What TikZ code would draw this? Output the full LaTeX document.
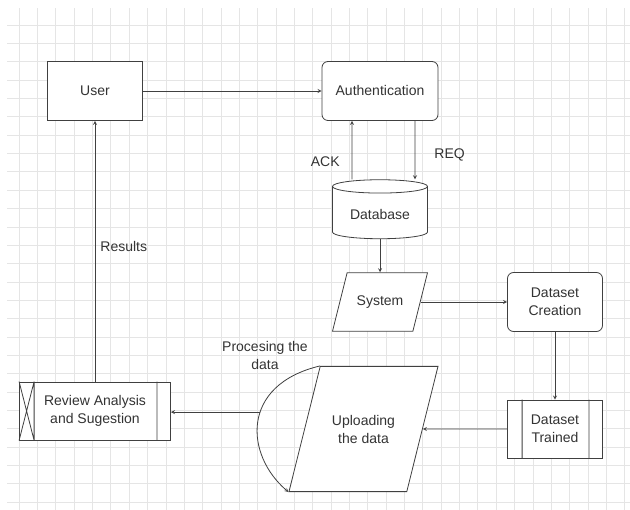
\documentclass[tikz,border=0pt]{standalone}
\usepackage{fontspec}
\setmainfont{Liberation Sans}
\usetikzlibrary{positioning, calc, shapes}

\begin{document}
\begin{tikzpicture}[x=1pt, y=-1pt, >=stealth, on grid,
					gridline/.style={draw=black!10, line width=0.6pt},
					box/.style={draw=black!75, line width=0.8pt, fill=white, minimum width=95pt,
						minimum height=59pt, align=center, text=black!80,
						font=\fontsize{14}{18}\selectfont},
					rbox/.style={box, rounded corners=6pt},
					para/.style={box, minimum height=0pt, trapezium, trapezium left angle=76,
						trapezium right angle=104, trapezium stretches body},
					dbase/.style={box, cylinder, shape border rotate=90, aspect=0.2},
					lbl/.style={text=black!80, font=\fontsize{14}{18}\selectfont, align=center, inner sep=0pt},
					line/.style={->, draw=black!75, line width=0.8pt} ]
	\useasboundingbox (0,0) rectangle (630,510);
	\foreach \i in {0,...,33}
		\draw[gridline] (19+\i*18.35,8) -- (19+\i*18.35,510);
	\foreach \j in {0,...,26}
		\draw[gridline] (7,25+\j*18.35) -- (630,25+\j*18.35);
	
	\node[box]                                            (U) at (95,91)       {User};
	\node[rbox, minimum width=116pt]                      (A) [right=285pt of U] {Authentication};
	\node[dbase]                                          (D) [below=123pt of A] {Database};
	\node[para, inner ysep=23pt]                          (S) [below=211pt of A] {System};
	\node[rbox]                                           (C) [right=175pt of S] {Dataset\\Creation};
	\node[box, minimum height=58pt]                       (T) [below=127pt of C] {Dataset\\Trained};
	\node[para, minimum width=149pt, inner ysep=48.5pt]   (L) [left=191.5pt of T] {Uploading\\the data};
	\node[box, minimum width=151pt, minimum height=58pt]  (R) at (95,411)      {Review Analysis\\and Sugestion};
	
	%Detalhes das caixas:
	\draw[draw=black!75, line width=0.8pt]
		([xshift=15pt]T.north west) -- ([xshift=15pt]T.south west)
		([xshift=-14pt]T.north east) -- ([xshift=-14pt]T.south east)
		([xshift=15pt]R.north west) -- ([xshift=15pt]R.south west)
		(R.north west) -- ([xshift=15pt]R.south west)
		(R.south west) -- ([xshift=15pt]R.north west)
		([xshift=-14pt]R.north east) -- ([xshift=-14pt]R.south east);
	
	%Ligações:
	\draw[line] (U) -- (A);
	\draw[line] ([xshift=-28pt]D.north) -- node[lbl, pos=0.3, anchor=east, xshift=-12pt] (ack) {ACK} ([xshift=-28pt]A.south);
	\draw[line] ([xshift=35pt]A.south) -- node[lbl, pos=0.58, anchor=west, xshift=19pt] (req) {REQ} ([xshift=35pt]D.north);
	\draw[line] (D) -- (S);
	\draw[line] (S) -- (C);
	\draw[line] (C) -- (T);
	\draw[line] (T) -- (L);
	\draw[line] (L.top left corner) .. controls (240,385) and (245,455) ..
		coordinate[pos=0.43] (B) (L.bottom left corner);
	\node[lbl] (proc) at (265,355) {Procesing the\\data};
	\draw[line] (B) -- (B -| R.east);
	\draw[line] (R) -- node[lbl, pos=0.52, anchor=west, xshift=5pt] (res) {Results} (U);
\end{tikzpicture}
\end{document}
